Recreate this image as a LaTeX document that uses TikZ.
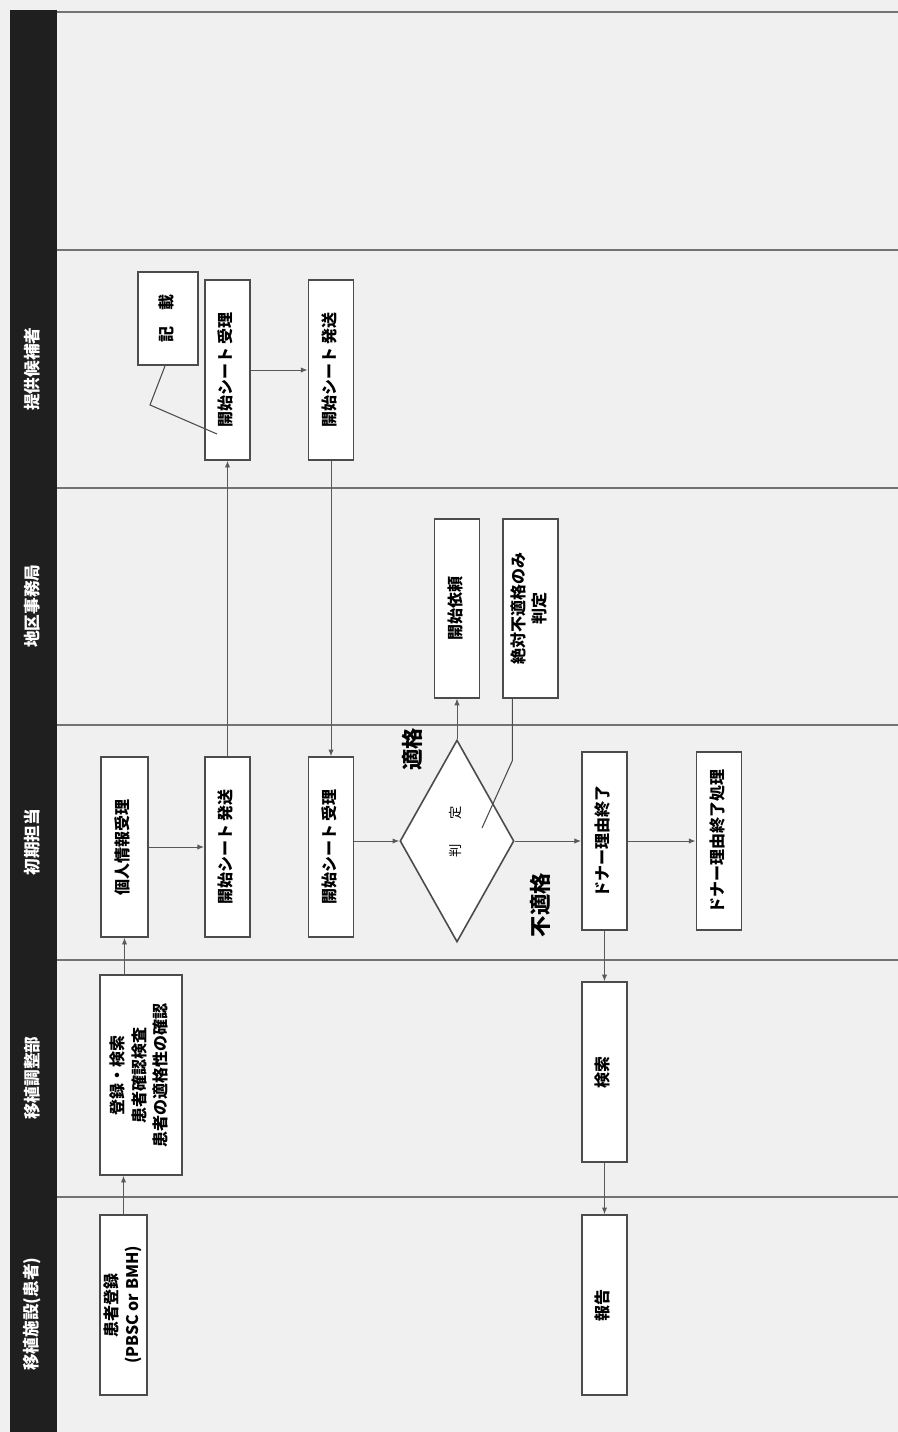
\documentclass[tikz,border=0pt]{standalone}
\usepackage{fontspec}
\setmainfont{Noto Sans CJK JP}
\usetikzlibrary{arrows.meta,shapes.geometric,calc}

\newcommand{\vtext}[1]{\rotatebox{90}{\begin{tabular}{@{}c@{}}#1\end{tabular}}}

\begin{document}
\begin{tikzpicture}[x=0.75pt,y=-0.75pt,
    box/.style={draw=black!70,line width=1.2pt,fill=white,inner sep=0pt,
      minimum width=34pt,minimum height=135pt,font=\fontsize{12}{16}\selectfont\bfseries},
    judgebox/.style={draw=black!70,line width=1.2pt,fill=white,diamond,inner sep=0pt,
      minimum width=85.5pt,minimum height=151.5pt,font=\fontsize{10}{12}\selectfont},
    arr/.style={-{Latex[length=5pt,width=4pt]},draw=black!65,line width=0.7pt},
    callout/.style={draw=black!70,line width=0.8pt},
    lane/.style={draw=black!55,line width=1.2pt},
    lanelabel/.style={text=white,font=\fontsize{12.5}{15}\selectfont\bfseries,rotate=90},
    verdict/.style={font=\fontsize{16}{18}\selectfont\bfseries,rotate=90}]
    \useasboundingbox (0,0) rectangle (898,1432);
    \fill[black!6] (0,0) rectangle (898,1432);
    \fill[black!88] (10,10) rectangle (57,1432);
    \draw[lane] (57,12) -- (898,12);
    \draw[lane] (57,250) -- (898,250);
    \draw[lane] (57,488) -- (898,488);
    \draw[lane] (57,725) -- (898,725);
    \draw[lane] (57,960) -- (898,960);
    \draw[lane] (57,1197) -- (898,1197);
    \node[lanelabel] (laneA) at (32,1314) {移植施設(患者)};
    \node[lanelabel] (laneB) at (32,1078) {移植調整部};
    \node[lanelabel] (laneC) at (32,842) {初期担当};
    \node[lanelabel] (laneD) at (32,606) {地区事務局};
    \node[lanelabel] (laneE) at (32,369) {提供候補者};

    \node[box,minimum width=35pt] (pat) at (123.5,1305) {\vtext{患者登録\\(PBSC or BMH)}};
    \node[box,minimum width=61.5pt,minimum height=150pt] (reg) at (141,1075)
      {\vtext{登録・検索\\患者確認検査\\患者の適格性の確認}};
    \node[box,minimum width=35pt] (info) at (124.5,847) {\vtext{個人情報受理}};
    \node[box] (sendA) at (227.5,847) {\vtext{開始シート\ 発送}};
    \node[box] (recvA) at (331,847) {\vtext{開始シート\ 受理}};
    \node[judgebox] (judge) at (457,841) {\vtext{\hspace{14pt}判\hspace{1.8em}定}};
    \node[box,minimum height=134pt] (req) at (457,608.5) {\vtext{開始依頼}};
    \node[box,minimum width=41pt,minimum height=134pt] (inelig) at (530.5,608.5)
      {\vtext{絶対不適格のみ\\判定}};
    \node[box,minimum height=133.5pt] (endD) at (604.5,841) {\vtext{ドナー理由終了}};
    \node[box,minimum height=133.5pt] (endP) at (719,841) {\vtext{ドナー理由終了処理}};
    \node[box] (search) at (604.5,1072) {\vtext{検索}};
    \node[box] (report) at (604.5,1305) {\vtext{報告}};
    \node[box] (recvB) at (227.5,370) {\vtext{開始シート\ 受理}};
    \node[box] (sendB) at (331,370) {\vtext{開始シート\ 発送}};
    \node[box,minimum width=45pt,minimum height=70pt] (note) at (168,318.5) {\vtext{記\hspace{1em}載}};

    \node[verdict] (ok) at (412,749) {適格};
    \node[verdict] (ng) at (540,905) {不適格};

    \draw[arr] (pat.north) -- (pat.north |- reg.south);
    \draw[arr] (info.south |- reg.north) -- (info.south);
    \draw[arr] (info) -- (sendA);
    \draw[arr] (sendA) -- (recvB);
    \draw[arr] (recvB) -- (sendB);
    \draw[arr] (sendB) -- (recvA);
    \draw[arr] (recvA.east |- judge.west) -- (judge.west);
    \draw[arr] (judge.north) -- (req.south);
    \draw[arr] (judge.east) -- (endD.west);
    \draw[arr] (endD) -- (endP);
    \draw[arr] (endD) -- (search);
    \draw[arr] (search) -- (report);

    \coordinate (judgemark) at (482,828);
    \coordinate (sheetmark) at (217,434);
    \draw[callout] (inelig.south west) ++(10,0) -- ++(0,62) -- (judgemark);
    \draw[callout] (note.south) ++(-3,0) -- ++(-15,39) -- (sheetmark);
  \end{tikzpicture}
\end{document}
